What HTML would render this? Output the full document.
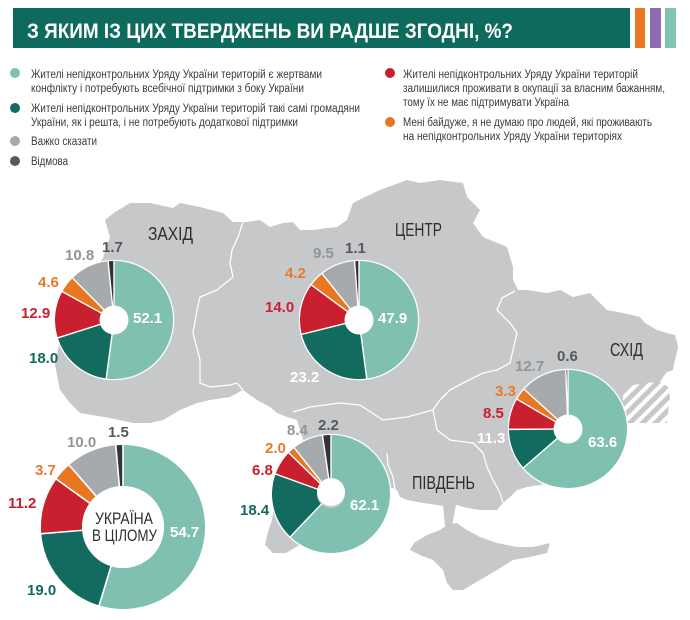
<!DOCTYPE html>
<html><head><meta charset="utf-8">
<style>
html,body{margin:0;padding:0;background:#fff;}
body{width:690px;height:620px;overflow:hidden;}
svg{display:block;font-family:"Liberation Sans","DejaVu Sans",sans-serif;}
.lg{font-size:11.5px;fill:#3a3a3a;}
.n{font-size:15px;font-weight:bold;}
.rg{font-size:18px;fill:#2e2e2e;}
</style></head>
<body>
<svg width="690" height="620" viewBox="0 0 690 620" xmlns="http://www.w3.org/2000/svg">
<defs>
<pattern id="hatch" patternUnits="userSpaceOnUse" width="9" height="9" patternTransform="rotate(45)">
<rect width="9" height="9" fill="#c7c8ca"/>
<rect x="0" y="0" width="4" height="9" fill="#fff"/>
</pattern>
</defs>
<rect width="690" height="620" fill="#fff"/>
<!-- header -->
<rect x="13" y="8" width="617" height="40" fill="#0e6a5d"/>
<rect x="635" y="8" width="10" height="40" fill="#e87722"/>
<rect x="650" y="8" width="11" height="40" fill="#8e6bb0"/>
<rect x="665" y="8" width="11" height="40" fill="#80c5b3"/>
<text x="27" y="38" font-size="21" font-weight="bold" fill="#fff" textLength="486" lengthAdjust="spacingAndGlyphs">З ЯКИМ ІЗ ЦИХ ТВЕРДЖЕНЬ ВИ РАДШЕ ЗГОДНІ, %?</text>

<!-- legend -->
<circle cx="15" cy="73" r="5" fill="#7fc0b1"/>
<text class="lg" x="31" y="78" textLength="291" lengthAdjust="spacingAndGlyphs">Жителі непідконтрольних Уряду України територій є жертвами</text>
<text class="lg" x="31" y="92" textLength="273" lengthAdjust="spacingAndGlyphs">конфлікту і потребують всебічної підтримки з боку України</text>
<circle cx="15" cy="108" r="5" fill="#136a5f"/>
<text class="lg" x="31" y="112" textLength="329" lengthAdjust="spacingAndGlyphs">Жителі непідконтрольних Уряду України територій такі самі громадяни</text>
<text class="lg" x="31" y="126" textLength="267" lengthAdjust="spacingAndGlyphs">України, як і решта, і не потребують додаткової підтримки</text>
<circle cx="15" cy="141" r="5" fill="#a7aaad"/>
<text class="lg" x="31" y="145" textLength="66" lengthAdjust="spacingAndGlyphs">Важко сказати</text>
<circle cx="15" cy="161" r="5" fill="#58595b"/>
<text class="lg" x="31" y="165" textLength="37" lengthAdjust="spacingAndGlyphs">Відмова</text>
<circle cx="390" cy="73" r="5" fill="#c8202f"/>
<text class="lg" x="403" y="78" textLength="235" lengthAdjust="spacingAndGlyphs">Жителі непідконтрольних Уряду України територій</text>
<text class="lg" x="403" y="92" textLength="262" lengthAdjust="spacingAndGlyphs">залишилися проживати в окупації за власним бажанням,</text>
<text class="lg" x="403" y="106" textLength="166" lengthAdjust="spacingAndGlyphs">тому їх не має підтримувати Україна</text>
<circle cx="390" cy="122" r="5" fill="#e87722"/>
<text class="lg" x="403" y="126" textLength="249" lengthAdjust="spacingAndGlyphs">Мені байдуже, я не думаю про людей, які проживають</text>
<text class="lg" x="403" y="140" textLength="219" lengthAdjust="spacingAndGlyphs">на непідконтрольних Уряду України територіях</text>

<!-- map -->
<polygon fill="#c7c8ca" points="105,220 115,212 130,203 150,203 173,208 180,203 200,207 223,213 233,222 247,222 260,220 270,227 283,223 293,222 300,230 313,230 327,228 337,227 347,220 353,203 365,197 380,190 407,180 420,183 440,180 463,183 467,197 480,210 473,223 483,237 507,247 513,267 513,280 518,290 527,290 547,293 560,290 573,297 590,293 607,310 623,313 640,317 645,323 657,330 667,333 675,335 677,342 678,347 675,360 673,370 667,372 663,377 660,382 623,390 623,423 600,450 560,480 540,485 527,487 517,490 510,497 503,503 497,510 480,510 467,508 457,505 450,507 437,505 423,503 407,500 400,497 397,490 390,487 380,500 340,520 308,540 286,553 273,553 265,545 268,532 272,520 275,500 288,465 303,440 300,430 297,420 287,417 277,413 270,407 257,400 243,390 230,397 210,400 197,403 180,410 163,420 150,423 133,423 110,418 80,413 70,403 60,390 55,365 62,330 80,290 103,258 110,237"/>
<polygon fill="url(#hatch)" points="623,390 633,385 647,383 660,382 668,387 670,397 668,413 667,423 623,423"/>
<polygon fill="#c7c8ca" points="443,505 456,505 452,526 445,526"/>
<polygon fill="#c7c8ca" points="410,550 414,543 427,535 440,530 447,525 457,523 467,530 480,537 497,543 517,547 533,547 550,543 547,553 530,557 513,560 497,570 480,580 463,590 453,590 447,583 443,570 433,560 420,555"/>
<g fill="none" stroke="#fff" stroke-width="1.3" stroke-linejoin="round">
<polyline points="243,222 238,237 232,250 230,263 233,277 217,290 200,297 197,310 193,333 200,360 200,383 210,387 230,385 237,383 243,390"/>
<polyline points="293,412 310,407 340,403 360,405 383,420 407,417 433,410"/>
<polyline points="433,410 437,430 450,440 473,443 483,453 487,467 493,480 500,493 503,503"/>
<polyline points="433,410 440,400 450,390 463,383 483,373 497,370 510,363 513,350 517,333 510,323 497,310 502,298 515,291"/>
<polyline points="387,453 388,465 393,477 395,490"/>
</g>

<!-- region labels -->
<text class="rg" x="148" y="240" textLength="45" lengthAdjust="spacingAndGlyphs">ЗАХІД</text>
<text class="rg" x="395" y="236" textLength="47" lengthAdjust="spacingAndGlyphs">ЦЕНТР</text>
<text class="rg" x="610" y="356" textLength="33" lengthAdjust="spacingAndGlyphs">СХІД</text>
<text class="rg" x="412" y="489" textLength="63" lengthAdjust="spacingAndGlyphs">ПІВДЕНЬ</text>

<!-- ЗАХІД donut -->
<g transform="translate(114 320) scale(2.2934) rotate(-90)" fill="none" stroke-width="19.62">
<circle r="15.9155" stroke="#7fc0b1" stroke-dasharray="52.1 47.9"/>
<circle r="15.9155" stroke="#136a5f" stroke-dasharray="18 82" stroke-dashoffset="-52.1"/>
<circle r="15.9155" stroke="#c8202f" stroke-dasharray="12.9 87.1" stroke-dashoffset="-70.1"/>
<circle r="15.9155" stroke="#e87722" stroke-dasharray="4.6 95.4" stroke-dashoffset="-83"/>
<circle r="15.9155" stroke="#a7aaad" stroke-dasharray="10.8 89.2" stroke-dashoffset="-87.6"/>
<circle r="15.9155" stroke="#333333" stroke-dasharray="1.6 98.4" stroke-dashoffset="-98.4"/>
</g>
<g transform="translate(114 320)" stroke="#fff" stroke-width="1.4">
<line x1="0" y1="-13" x2="0" y2="-60"/>
<line x1="0" y1="-13" x2="0" y2="-60" transform="rotate(187.56)"/>
<line x1="0" y1="-13" x2="0" y2="-60" transform="rotate(252.36)"/>
<line x1="0" y1="-13" x2="0" y2="-60" transform="rotate(298.8)"/>
<line x1="0" y1="-13" x2="0" y2="-60" transform="rotate(315.36)"/>
<line x1="0" y1="-13" x2="0" y2="-60" transform="rotate(354.24)"/>
<circle r="59.7" fill="none" stroke-width="1.2"/>
<circle r="14.5" fill="#fff" stroke="none"/>
</g>

<!-- ЦЕНТР donut -->
<g transform="translate(359 320) scale(2.2934) rotate(-90)" fill="none" stroke-width="19.62">
<circle r="15.9155" stroke="#7fc0b1" stroke-dasharray="47.9 52.1"/>
<circle r="15.9155" stroke="#136a5f" stroke-dasharray="23.2 76.8" stroke-dashoffset="-47.9"/>
<circle r="15.9155" stroke="#c8202f" stroke-dasharray="14 86" stroke-dashoffset="-71.1"/>
<circle r="15.9155" stroke="#e87722" stroke-dasharray="4.2 95.8" stroke-dashoffset="-85.1"/>
<circle r="15.9155" stroke="#a7aaad" stroke-dasharray="9.5 90.5" stroke-dashoffset="-89.3"/>
<circle r="15.9155" stroke="#333333" stroke-dasharray="1.2 98.8" stroke-dashoffset="-98.8"/>
</g>
<g transform="translate(359 320)" stroke="#fff" stroke-width="1.4">
<line x1="0" y1="-13" x2="0" y2="-60"/>
<line x1="0" y1="-13" x2="0" y2="-60" transform="rotate(172.44)"/>
<line x1="0" y1="-13" x2="0" y2="-60" transform="rotate(255.96)"/>
<line x1="0" y1="-13" x2="0" y2="-60" transform="rotate(306.36)"/>
<line x1="0" y1="-13" x2="0" y2="-60" transform="rotate(321.48)"/>
<line x1="0" y1="-13" x2="0" y2="-60" transform="rotate(355.68)"/>
<circle r="59.7" fill="none" stroke-width="1.2"/>
<circle r="14.5" fill="#fff" stroke="none"/>
</g>

<!-- СХІД donut -->
<g transform="translate(568 429) scale(2.2934) rotate(-90)" fill="none" stroke-width="19.62">
<circle r="15.9155" stroke="#7fc0b1" stroke-dasharray="63.6 36.4"/>
<circle r="15.9155" stroke="#136a5f" stroke-dasharray="11.3 88.7" stroke-dashoffset="-63.6"/>
<circle r="15.9155" stroke="#c8202f" stroke-dasharray="8.5 91.5" stroke-dashoffset="-74.9"/>
<circle r="15.9155" stroke="#e87722" stroke-dasharray="3.3 96.7" stroke-dashoffset="-83.4"/>
<circle r="15.9155" stroke="#a7aaad" stroke-dasharray="12.7 87.3" stroke-dashoffset="-86.7"/>
<circle r="15.9155" stroke="#333333" stroke-dasharray="0.6 99.4" stroke-dashoffset="-99.4"/>
</g>
<g transform="translate(568 429)" stroke="#fff" stroke-width="1.4">
<line x1="0" y1="-13" x2="0" y2="-60"/>
<line x1="0" y1="-13" x2="0" y2="-60" transform="rotate(228.96)"/>
<line x1="0" y1="-13" x2="0" y2="-60" transform="rotate(269.64)"/>
<line x1="0" y1="-13" x2="0" y2="-60" transform="rotate(300.24)"/>
<line x1="0" y1="-13" x2="0" y2="-60" transform="rotate(312.12)"/>
<line x1="0" y1="-13" x2="0" y2="-60" transform="rotate(357.84)"/>
<circle r="59.7" fill="none" stroke-width="1.2"/>
<circle r="14.5" fill="#fff" stroke="none"/>
</g>

<!-- ПІВДЕНЬ donut -->
<g transform="translate(331 494) scale(2.2934) rotate(-90)" fill="none" stroke-width="19.62">
<circle r="15.9155" stroke="#7fc0b1" stroke-dasharray="62.1 37.9"/>
<circle r="15.9155" stroke="#136a5f" stroke-dasharray="18.4 81.6" stroke-dashoffset="-62.1"/>
<circle r="15.9155" stroke="#c8202f" stroke-dasharray="6.8 93.2" stroke-dashoffset="-80.5"/>
<circle r="15.9155" stroke="#e87722" stroke-dasharray="2 98" stroke-dashoffset="-87.3"/>
<circle r="15.9155" stroke="#a7aaad" stroke-dasharray="8.4 91.6" stroke-dashoffset="-89.3"/>
<circle r="15.9155" stroke="#333333" stroke-dasharray="2.3 97.7" stroke-dashoffset="-97.7"/>
</g>
<g transform="translate(331 494)" stroke="#fff" stroke-width="1.4">
<line x1="0" y1="-13" x2="0" y2="-60"/>
<line x1="0" y1="-13" x2="0" y2="-60" transform="rotate(223.56)"/>
<line x1="0" y1="-13" x2="0" y2="-60" transform="rotate(289.8)"/>
<line x1="0" y1="-13" x2="0" y2="-60" transform="rotate(314.28)"/>
<line x1="0" y1="-13" x2="0" y2="-60" transform="rotate(321.48)"/>
<line x1="0" y1="-13" x2="0" y2="-60" transform="rotate(351.72)"/>
<circle r="59.7" fill="none" stroke-width="1.2"/>
<circle r="14" cy="-2" fill="#fff" stroke="none"/>
</g>

<!-- УКРАЇНА donut -->
<g transform="translate(123 527) scale(3.8642) rotate(-90)" fill="none" stroke-width="10.61">
<circle r="15.9155" stroke="#7fc0b1" stroke-dasharray="54.7 45.3"/>
<circle r="15.9155" stroke="#136a5f" stroke-dasharray="19 81" stroke-dashoffset="-54.7"/>
<circle r="15.9155" stroke="#c8202f" stroke-dasharray="11.2 88.8" stroke-dashoffset="-73.7"/>
<circle r="15.9155" stroke="#e87722" stroke-dasharray="3.7 96.3" stroke-dashoffset="-84.9"/>
<circle r="15.9155" stroke="#a7aaad" stroke-dasharray="10 90" stroke-dashoffset="-88.6"/>
<circle r="15.9155" stroke="#333333" stroke-dasharray="1.4 98.6" stroke-dashoffset="-98.6"/>
</g>
<g transform="translate(123 527)" stroke="#fff" stroke-width="1.6">
<line x1="0" y1="-40" x2="0" y2="-83"/>
<line x1="0" y1="-40" x2="0" y2="-83" transform="rotate(196.92)"/>
<line x1="0" y1="-40" x2="0" y2="-83" transform="rotate(265.32)"/>
<line x1="0" y1="-40" x2="0" y2="-83" transform="rotate(305.64)"/>
<line x1="0" y1="-40" x2="0" y2="-83" transform="rotate(318.96)"/>
<line x1="0" y1="-40" x2="0" y2="-83" transform="rotate(354.96)"/>
<circle r="41" fill="#fff" stroke="none"/>
</g>
<text x="95" y="524" font-size="17" fill="#2e2e2e" textLength="58" lengthAdjust="spacingAndGlyphs">УКРАЇНА</text>
<text x="92" y="541" font-size="17" fill="#2e2e2e" textLength="65" lengthAdjust="spacingAndGlyphs">В ЦІЛОМУ</text>

<!-- value labels -->
<g class="n">
<text x="133" y="323" fill="#fff">52.1</text>
<text x="29" y="363" fill="#136a5f">18.0</text>
<text x="21" y="318" fill="#c8202f">12.9</text>
<text x="38" y="287" fill="#e8792a">4.6</text>
<text x="65" y="260" fill="#919598">10.8</text>
<text x="102" y="252" fill="#55595c">1.7</text>

<text x="378" y="323" fill="#fff">47.9</text>
<text x="290" y="382" fill="#fff">23.2</text>
<text x="265" y="312" fill="#c8202f">14.0</text>
<text x="285" y="278" fill="#e8792a">4.2</text>
<text x="313" y="258" fill="#919598">9.5</text>
<text x="345" y="253" fill="#55595c">1.1</text>

<text x="588" y="447" fill="#fff">63.6</text>
<text x="477" y="443" fill="#fff">11.3</text>
<text x="483" y="418" fill="#c8202f">8.5</text>
<text x="495" y="396" fill="#e8792a">3.3</text>
<text x="515" y="371" fill="#919598">12.7</text>
<text x="557" y="361" fill="#55595c">0.6</text>

<text x="350" y="510" fill="#fff">62.1</text>
<text x="240" y="515" fill="#136a5f">18.4</text>
<text x="252" y="475" fill="#c8202f">6.8</text>
<text x="265" y="453" fill="#e8792a">2.0</text>
<text x="287" y="435" fill="#919598">8.4</text>
<text x="318" y="430" fill="#55595c">2.2</text>

<text x="170" y="537" fill="#fff">54.7</text>
<text x="27" y="595" fill="#136a5f">19.0</text>
<text x="8" y="508" fill="#c8202f">11.2</text>
<text x="35" y="475" fill="#e8792a">3.7</text>
<text x="67" y="447" fill="#919598">10.0</text>
<text x="108" y="437" fill="#55595c">1.5</text>
</g>
</svg>
</body></html>
